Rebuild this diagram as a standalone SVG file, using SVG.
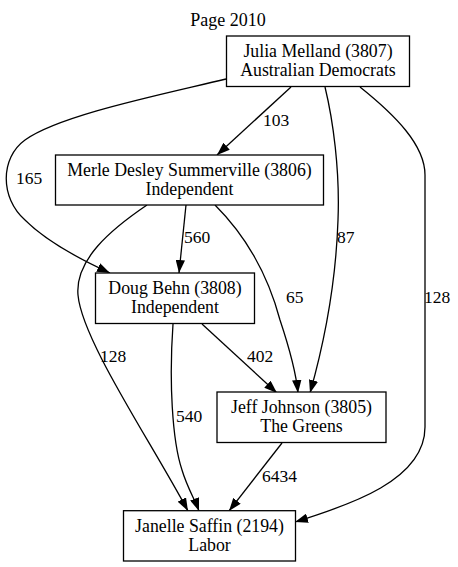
<svg xmlns="http://www.w3.org/2000/svg" width="458" height="567" viewBox="0 0 458 567">
<defs>
<style>
text{font-family:"Liberation Serif","Times New Roman",serif;font-size:17.5px;fill:#000}
.node rect{fill:#fff;stroke:#000;stroke-width:1.3}
.node text{text-anchor:middle;font-size:17.8px}
#edges path{fill:none;stroke:#000;stroke-width:1.3}
#edges text{text-anchor:start}
</style>
<marker id="ah" viewBox="0 0 13 9.4" refX="13" refY="4.7" markerWidth="13" markerHeight="9.4" markerUnits="userSpaceOnUse" orient="auto">
<path d="M0,0 L13,4.7 L0,9.4 z" fill="#000"/>
</marker>
</defs>
<rect width="458" height="567" fill="#fff"/>
<text x="228" y="25.5" text-anchor="middle" style="font-size:18px">Page 2010</text>
<g id="edges">
<path d="M291,87 L217,155" marker-end="url(#ah)"/>
<text x="263" y="126">103</text>
<path d="M226,79 C160,95 60,115 25,140 C0,158 0,198 25,220 C45,240 75,257 110,273" marker-end="url(#ah)"/>
<text x="16" y="184">165</text>
<path d="M325,87 C333,120 340,170 338,220 C336,280 325,340 310,393" marker-end="url(#ah)"/>
<text x="337" y="243">87</text>
<path d="M360,87 C395,115 425,145 425,175 L425,427 C425,480 350,505 295,522" marker-end="url(#ah)"/>
<text x="424" y="303">128</text>
<path d="M186,205 L179,273" marker-end="url(#ah)"/>
<text x="184" y="243">560</text>
<path d="M215,205 C245,235 268,275 280,320 C290,350 296,372 298,393" marker-end="url(#ah)"/>
<text x="286" y="303">65</text>
<path d="M147,205 C110,230 75,260 78,295 C82,340 150,440 188,511" marker-end="url(#ah)"/>
<text x="100" y="362">128</text>
<path d="M173,324 C169,380 172,440 182,470 C187,487 195,500 199,511" marker-end="url(#ah)"/>
<text x="176" y="422">540</text>
<path d="M202,324 L277,393" marker-end="url(#ah)"/>
<text x="247" y="362">402</text>
<path d="M282,443 L229,511" marker-end="url(#ah)"/>
<text x="262" y="482">6434</text>
</g>
<g id="julia" class="node">
<rect x="226.5" y="36" width="183" height="50.5"/>
<text x="318" y="57">Julia Melland (3807)</text>
<text x="318" y="75.5">Australian Democrats</text>
</g>
<g id="merle" class="node">
<rect x="55.5" y="155" width="268" height="50"/>
<text x="189.5" y="176">Merle Desley Summerville (3806)</text>
<text x="189.5" y="194.5">Independent</text>
</g>
<g id="doug" class="node">
<rect x="95.5" y="273" width="159" height="50.5"/>
<text x="175" y="294">Doug Behn (3808)</text>
<text x="175" y="312.5">Independent</text>
</g>
<g id="jeff" class="node">
<rect x="217" y="392" width="169" height="50.5"/>
<text x="301.5" y="413">Jeff Johnson (3805)</text>
<text x="301.5" y="431.5">The Greens</text>
</g>
<g id="janelle" class="node">
<rect x="123.5" y="510.7" width="172" height="50.3"/>
<text x="209.5" y="532">Janelle Saffin (2194)</text>
<text x="209.5" y="550.5">Labor</text>
</g>
</svg>
